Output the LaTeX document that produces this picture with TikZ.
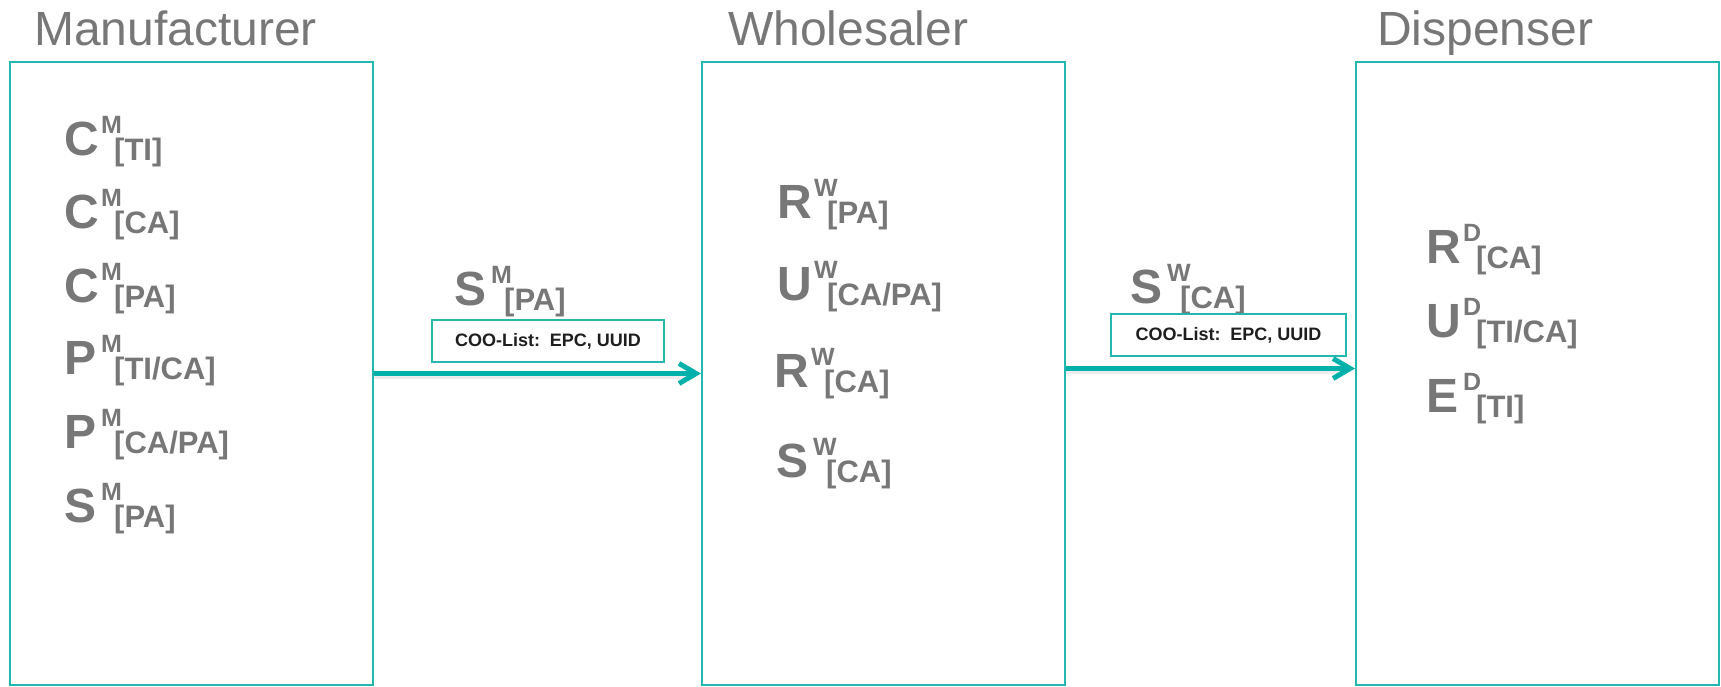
\documentclass[tikz,border=0pt]{standalone}
\usepackage{fontspec}
\setmainfont{Liberation Sans}
\usetikzlibrary{arrows.meta}
\definecolor{tealc}{HTML}{00B0AA}
\definecolor{boxc}{HTML}{22B8B0}
\definecolor{txtg}{HTML}{777777}
\definecolor{cootxt}{HTML}{1E1E1E}
\newcommand\ent[3]{\makebox[37pt][l]{\fontsize{48}{48}\selectfont\bfseries #1}\rlap{\raisebox{22pt}{\fontsize{25}{25}\selectfont\bfseries #2}}\hspace{13pt}\raisebox{-5pt}{\fontsize{31}{31}\selectfont\bfseries #3}}
\begin{document}
\begin{tikzpicture}[x=1pt,y=-1pt,
  pbox/.style={draw=boxc, line width=2pt, fill=white, inner sep=0pt, minimum width=363pt, minimum height=623pt},
  title/.style={anchor=base west, inner sep=0pt, text=txtg, font=\fontsize{48}{48}\selectfont},
  item/.style={anchor=base west, inner sep=0pt, text=txtg},
  coobox/.style={draw=boxc, line width=2pt, fill=white, inner sep=0pt, minimum height=42pt, text=cootxt, font=\fontsize{18}{18}\selectfont\bfseries},
  flow/.style={draw=tealc, line width=5pt, -{Straight Barb[length=17pt,width=20pt]}},
  flowshadow/.style={draw=black!25, line width=4pt, opacity=0.3}
]
\useasboundingbox (0,0) rectangle (1721,686);
% boxes
\node[pbox] (man) at (191.5,373.5) {};
\node[pbox] (whl) at (883.5,373.5) {};
\node[pbox] (dsp) at (1537.5,373.5) {};
% titles
\node[title] (tman) at (34,45) {Manufacturer};
\node[title] (twhl) at (728,45) {Wholesaler};
\node[title] (tdsp) at (1377,45) {Dispenser};
% manufacturer items
\node[item] (m1) at (64,155) {\ent{C}{M}{[TI]}};
\node[item] (m2) at (64,228.5) {\ent{C}{M}{[CA]}};
\node[item] (m3) at (64,302) {\ent{C}{M}{[PA]}};
\node[item] (m4) at (64,374.5) {\ent{P}{M}{[TI/CA]}};
\node[item] (m5) at (64,448) {\ent{P}{M}{[CA/PA]}};
\node[item] (m6) at (64,522) {\ent{S}{M}{[PA]}};
% wholesaler items
\node[item] (w1) at (777,218) {\ent{R}{W}{[PA]}};
\node[item] (w2) at (777,300) {\ent{U}{W}{[CA/PA]}};
\node[item] (w3) at (774,387) {\ent{R}{W}{[CA]}};
\node[item] (w4) at (776,477) {\ent{S}{W}{[CA]}};
% dispenser items
\node[item] (d1) at (1426,263) {\ent{R}{D}{[CA]}};
\node[item] (d2) at (1426,337) {\ent{U}{D}{[TI/CA]}};
\node[item] (d3) at (1426,412) {\ent{E}{D}{[TI]}};
% flows
\draw[flowshadow] ([yshift=-3pt]man.east) -- ([yshift=-3pt,xshift=-8pt]whl.west);
\draw[flowshadow] ([yshift=2pt]whl.east) -- ([yshift=2pt,xshift=-8pt]dsp.west);
\draw[flow] (man.east) -- (whl.west);
\draw[flow] ([yshift=5pt]whl.east) -- ([yshift=5pt]dsp.west);
% labels on flows
\node[item] (l1) at (454,305) {\ent{S}{M}{[PA]}};
\node[coobox, minimum width=232pt] (c1) at (548,341) {COO-List:\, EPC, UUID};
\node[item] (l2) at (1130,303) {\ent{S}{W}{[CA]}};
\node[coobox, minimum width=235pt] (c2) at (1228.5,335) {COO-List:\, EPC, UUID};
\end{tikzpicture}
\end{document}
